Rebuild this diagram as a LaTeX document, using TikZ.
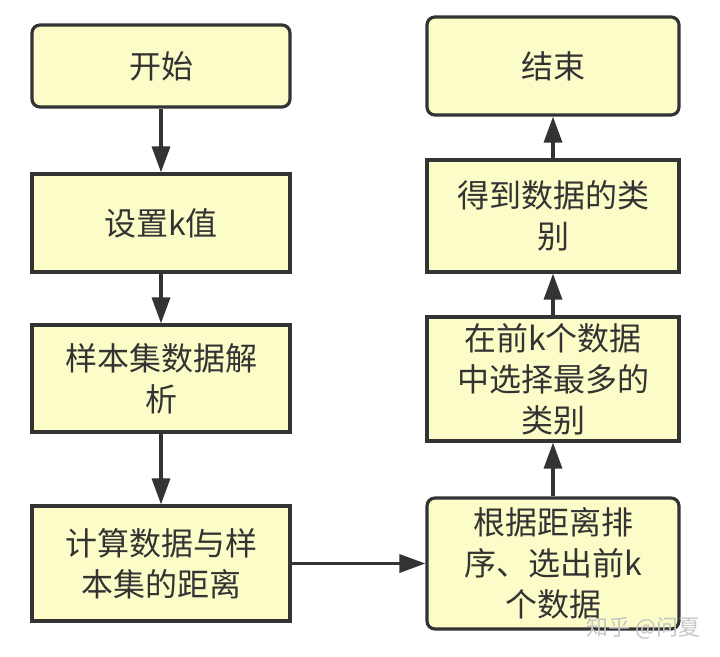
\documentclass[tikz,border=0pt]{standalone}
\usepackage{fontspec}
\setmainfont{Noto Sans CJK SC}
\usetikzlibrary{arrows.meta}
\definecolor{boxfill}{HTML}{FCFCC8}
\definecolor{ink}{HTML}{333333}
\tikzset{
  x=1pt, y=-1pt,
  box/.style={draw=ink, fill=boxfill, line width=3.2pt, minimum width=258pt,
    align=center, text=ink, font=\fontsize{32pt}{41pt}\selectfont, inner sep=0pt},
  rbox/.style={box, rounded corners=8pt},
  flow/.style={draw=ink, line width=3.4pt, -{Triangle[length=26pt,width=18pt]}},
}
\begin{document}
\begin{tikzpicture}
\useasboundingbox (0,0) rectangle (720,656);
\node[rbox, minimum height=82pt] (start) at (161,66) {开始};
\node[box, minimum height=98pt] (setk) at (161,223) {设置k值};
\node[box, minimum height=107pt] (parse) at (161,378.5) {样本集数据解\\析};
\node[box, minimum height=115pt] (dist) at (161,563.5) {计算数据与样\\本集的距离};
\node[rbox, minimum height=131pt, minimum width=252pt] (sort) at (553,563.5) {根据距离排\\序、选出前k\\个数据};
\node[box, minimum height=124pt, minimum width=252pt] (vote) at (553,379) {在前k个数据\\中选择最多的\\类别};
\node[box, minimum height=112pt, minimum width=252pt] (cls) at (553,216) {得到数据的类\\别};
\node[rbox, minimum height=98pt, minimum width=252pt] (end) at (553,66) {结束};
\draw[flow] (start) -- (setk);
\draw[flow] (setk) -- (parse);
\draw[flow] (parse) -- (dist);
\draw[flow] (dist) -- (sort);
\draw[flow] (sort) -- (vote);
\draw[flow] (vote) -- (cls);
\draw[flow] (cls) -- (end);
\node[text=gray!45, font=\fontsize{22pt}{24pt}\selectfont, anchor=east] (wm) at (704,628) {知乎 @问夏};
\end{tikzpicture}
\end{document}
